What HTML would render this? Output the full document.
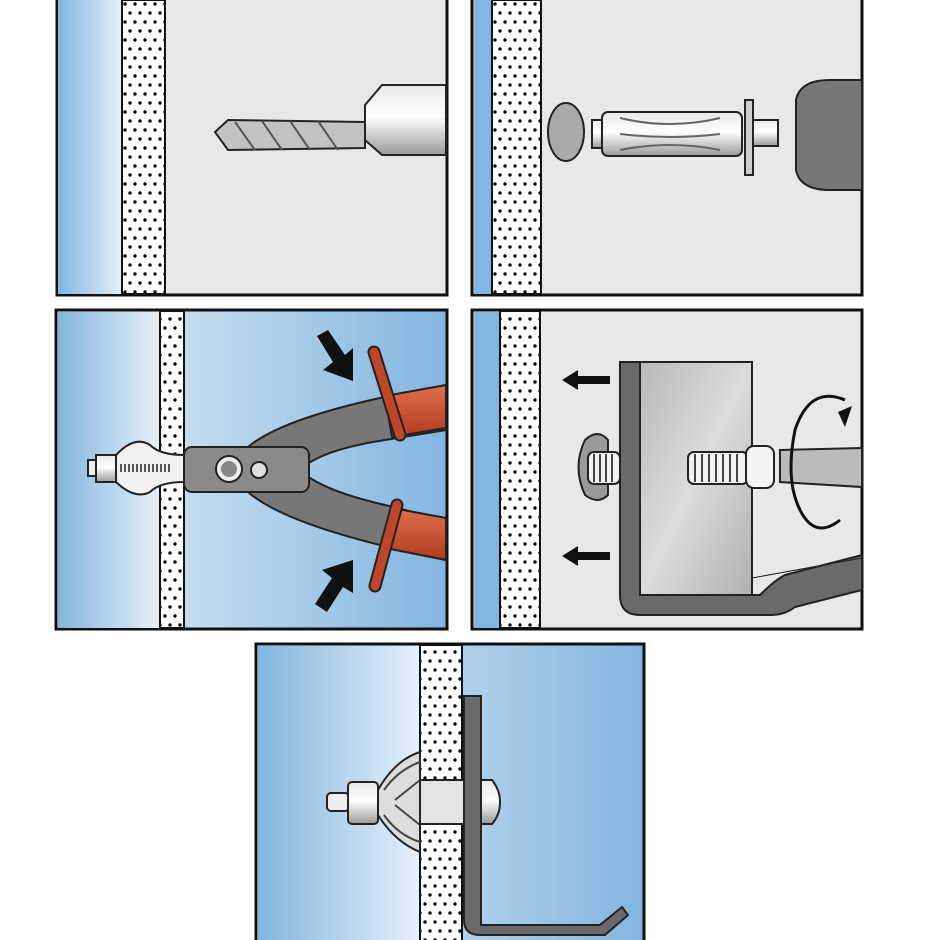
<!DOCTYPE html>
<html><head><meta charset="utf-8"><style>html,body{margin:0;padding:0;background:#fff}svg{display:block}</style></head>
<body>
<svg width="940" height="940" viewBox="0 0 940 940" xmlns="http://www.w3.org/2000/svg">
<defs>
<pattern id="dots" width="20" height="18" patternUnits="userSpaceOnUse">
<rect width="20" height="18" fill="#fff"/>
<circle cx="5" cy="4" r="1.7" fill="#111"/><circle cx="15" cy="4" r="1.7" fill="#111"/>
<circle cx="0" cy="13" r="1.7" fill="#111"/><circle cx="10" cy="13" r="1.7" fill="#111"/><circle cx="20" cy="13" r="1.7" fill="#111"/>
</pattern>
<linearGradient id="bl" x1="0" x2="1"><stop offset="0" stop-color="#82b5df"/><stop offset="1" stop-color="#e6f0f8"/></linearGradient>
<linearGradient id="br" x1="0" x2="1"><stop offset="0" stop-color="#e6f0f8"/><stop offset="1" stop-color="#82b5df"/></linearGradient>
<linearGradient id="metal" x1="0" y1="0" x2="0" y2="1"><stop offset="0" stop-color="#e8e8e8"/><stop offset=".45" stop-color="#fff"/><stop offset="1" stop-color="#9a9a9a"/></linearGradient>
<linearGradient id="plate" x1="0" y1="0" x2="1" y2="1"><stop offset="0" stop-color="#b8b8b8"/><stop offset=".5" stop-color="#dcdcdc"/><stop offset="1" stop-color="#b0b0b0"/></linearGradient>
<linearGradient id="red" x1="0" y1="0" x2="0" y2="1"><stop offset="0" stop-color="#e0704f"/><stop offset="1" stop-color="#b03a22"/></linearGradient>
</defs>

<!-- Panel 1 -->
<rect x="57" y="-3" width="390" height="298" fill="#e6e8ea" stroke="#111" stroke-width="3"/>
<rect x="58" y="0" width="64" height="294" fill="url(#bl)"/>
<rect x="122" y="0" width="43" height="294" fill="url(#dots)" stroke="#111" stroke-width="2"/>
<path d="M215 132 L228 120 L365 122 L365 148 L228 150 Z" fill="#c2c2c2" stroke="#222" stroke-width="2"/>
<path d="M235 122 L255 150 M262 121 L282 150 M290 121 L310 150 M318 121 L338 150" stroke="#555" stroke-width="2"/>
<path d="M365 105 L382 85 L446 85 L446 155 L382 155 L365 140 Z" fill="url(#metal)" stroke="#222" stroke-width="2"/>

<!-- Panel 2 -->
<rect x="472" y="-3" width="390" height="298" fill="#e6e8ea" stroke="#111" stroke-width="3"/>
<rect x="474" y="0" width="18" height="294" fill="#82b5df"/>
<rect x="492" y="0" width="49" height="294" fill="url(#dots)" stroke="#111" stroke-width="2"/>
<ellipse cx="566" cy="132" rx="18" ry="29" fill="#aaa" stroke="#222" stroke-width="2"/>
<rect x="592" y="120" width="10" height="28" fill="url(#metal)" stroke="#222" stroke-width="2"/>
<rect x="602" y="112" width="140" height="44" rx="6" fill="url(#metal)" stroke="#222" stroke-width="2"/>
<path d="M620 118 Q670 130 720 118 M620 134 Q670 140 720 134 M620 150 Q670 140 720 150" stroke="#666" stroke-width="2" fill="none"/>
<rect x="745" y="100" width="8" height="75" fill="#ccc" stroke="#222" stroke-width="2"/>
<rect x="753" y="120" width="25" height="26" fill="url(#metal)" stroke="#222" stroke-width="2"/>
<path d="M796 100 Q800 80 830 80 L862 80 L862 190 L830 190 Q800 190 796 170 Z" fill="#777" stroke="#222" stroke-width="2"/>

<!-- Panel 3 -->
<rect x="56" y="310" width="391" height="319" fill="url(#br)" stroke="#111" stroke-width="3"/>
<rect x="58" y="312" width="102" height="316" fill="url(#bl)"/>
<rect x="160" y="311" width="24" height="317" fill="url(#dots)" stroke="#111" stroke-width="2"/>
<rect x="88" y="460" width="10" height="16" fill="#eee" stroke="#222" stroke-width="2"/>
<rect x="96" y="455" width="20" height="27" fill="url(#metal)" stroke="#222" stroke-width="2"/>
<path d="M116 455 Q135 435 150 445 Q160 455 184 455 L184 482 Q160 482 150 492 Q135 500 116 482 Z" fill="#f2f2f2" stroke="#222" stroke-width="2"/>
<path d="M120 468 L170 468" stroke="#555" stroke-width="8" stroke-dasharray="2 2"/>
<path d="M248 447 Q280 420 380 398 L446 388 L446 430 L385 440 Q320 450 300 470 Q320 490 385 505 L446 520 L446 560 L380 545 Q280 520 248 492 Z" fill="#777" stroke="#222" stroke-width="2"/>
<rect x="184" y="447" width="125" height="45" rx="8" fill="#8a8a8a" stroke="#222" stroke-width="2"/>
<circle cx="229" cy="469" r="13" fill="#eee" stroke="#222" stroke-width="2"/><circle cx="229" cy="469" r="8" fill="#888"/>
<circle cx="259" cy="470" r="8" fill="#ddd" stroke="#222" stroke-width="2"/>
<path d="M385 396 L446 385 L446 428 L392 437 Z" fill="url(#red)" stroke="#222" stroke-width="2"/>
<path d="M392 508 L446 518 L446 560 L385 548 Z" fill="url(#red)" stroke="#222" stroke-width="2"/>
<line x1="374" y1="352" x2="400" y2="435" stroke="#222" stroke-width="13" stroke-linecap="round"/>
<line x1="374" y1="352" x2="400" y2="435" stroke="#c0462a" stroke-width="9" stroke-linecap="round"/>
<line x1="397" y1="505" x2="375" y2="586" stroke="#222" stroke-width="13" stroke-linecap="round"/>
<line x1="397" y1="505" x2="375" y2="586" stroke="#c0462a" stroke-width="9" stroke-linecap="round"/>
<path d="M317 336 L328 330 L345 355 L353 348 L353 381 L323 370 L333 362 Z" fill="#111"/>
<path d="M315 604 L327 612 L343 587 L353 593 L353 560 L322 570 L332 578 Z" fill="#111"/>

<!-- Panel 4 -->
<rect x="472" y="310" width="390" height="319" fill="#e6e8ea" stroke="#111" stroke-width="3"/>
<rect x="474" y="312" width="26" height="316" fill="#82b5df"/>
<rect x="500" y="311" width="40" height="317" fill="url(#dots)" stroke="#111" stroke-width="2"/>
<path d="M620 362 L640 362 L640 595 L760 595 Q775 580 785 575 L862 555 L862 590 L795 607 Q785 615 770 615 L640 615 Q620 615 620 595 Z" fill="#6a6a6a" stroke="#222" stroke-width="2"/>
<rect x="640" y="362" width="112" height="233" fill="url(#plate)" stroke="#222" stroke-width="2"/>
<path d="M752 570 L752 578 L862 558" fill="none" stroke="#222" stroke-width="1"/>
<path d="M585 440 Q598 428 608 440 L608 495 Q598 505 585 495 Q572 467 585 440 Z" fill="#9a9a9a" stroke="#222" stroke-width="2"/>
<rect x="588" y="452" width="32" height="32" rx="6" fill="#f2f2f2" stroke="#222" stroke-width="2"/>
<path d="M594 454 v28 M600 454 v28 M606 454 v28 M612 454 v28" stroke="#444" stroke-width="2"/>
<rect x="688" y="452" width="60" height="32" rx="6" fill="#f2f2f2" stroke="#222" stroke-width="2"/>
<path d="M695 454 v28 M702 454 v28 M709 454 v28 M716 454 v28 M723 454 v28 M730 454 v28 M737 454 v28" stroke="#444" stroke-width="2"/>
<rect x="746" y="446" width="28" height="42" rx="8" fill="#f4f4f4" stroke="#222" stroke-width="2"/>
<path d="M780 450 L862 448 L862 487 L780 482 Z" fill="#bbb" stroke="#222" stroke-width="2"/>
<path d="M845 400 Q810 385 795 430 Q785 480 800 510 Q815 540 840 520" fill="none" stroke="#111" stroke-width="3"/>
<path d="M838 412 L852 406 L845 427 Z" fill="#111"/>
<path d="M562 380 L578 370 L578 376 L610 376 L610 384 L578 384 L578 390 Z" fill="#111"/>
<path d="M562 556 L578 546 L578 552 L610 552 L610 560 L578 560 L578 566 Z" fill="#111"/>

<!-- Panel 5 -->
<rect x="256" y="644" width="388" height="300" fill="url(#br)" stroke="#111" stroke-width="3"/>
<rect x="258" y="646" width="162" height="294" fill="url(#bl)"/>
<rect x="420" y="645" width="42" height="296" fill="url(#dots)" stroke="#111" stroke-width="2"/>
<path d="M464 696 L481 696 L481 925 L600 925 L622 907 L628 915 L605 935 L480 935 Q464 935 464 920 Z" fill="#6a6a6a" stroke="#222" stroke-width="2"/>
<rect x="327" y="793" width="22" height="18" rx="4" fill="#eee" stroke="#222" stroke-width="2"/>
<rect x="348" y="782" width="30" height="42" rx="4" fill="url(#metal)" stroke="#222" stroke-width="2"/>
<path d="M378 790 Q395 760 420 752 L420 852 Q395 842 378 815 Z" fill="#ddd" stroke="#222" stroke-width="2"/>
<path d="M384 790 Q398 770 420 762 M384 815 Q398 835 420 842 M395 800 L420 780 M395 805 L420 825" stroke="#444" stroke-width="2" fill="none"/>
<rect x="420" y="780" width="44" height="44" fill="#e4e4e4" stroke="#222" stroke-width="2"/>
<path d="M481 780 L492 780 Q500 790 500 802 Q500 815 492 824 L481 824 Z" fill="url(#metal)" stroke="#222" stroke-width="2"/>
</svg>
</body></html>
